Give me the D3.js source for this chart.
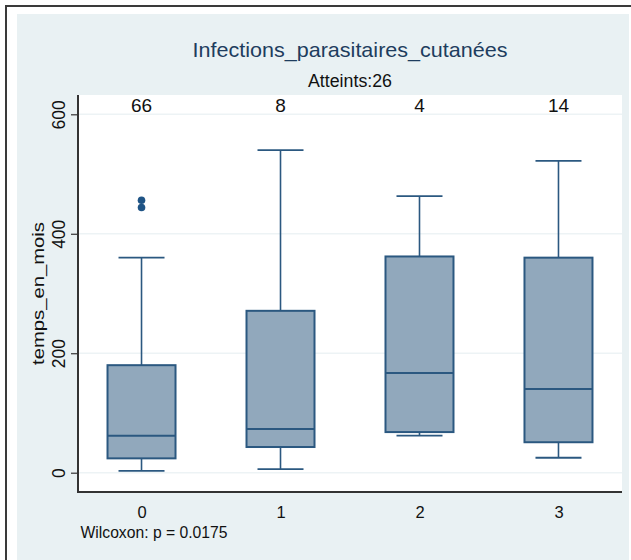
<!DOCTYPE html>
<html>
<head>
<meta charset="utf-8">
<script src="https://cdn.jsdelivr.net/npm/d3@7"></script>
<style>
  html, body { margin: 0; padding: 0; background: #ffffff; }
  svg { display: block; }
</style>
</head>
<body>
<svg id="chart" width="631" height="560"></svg>
<script>
// Box plot summaries per group (temps_en_mois)
const categories  = ["0", "1", "2", "3"];
const counts      = [66, 8, 4, 14];
const whiskerLow  = [3, 6, 62, 25];
const q1          = [24, 43, 68, 51];
const median      = [62, 73, 167, 140];
const q3          = [180, 271, 362, 360];
const whiskerHigh = [360, 540, 463, 522];
const outliers    = [[456, 444], [], [], []];
const yTicks      = [0, 200, 400, 600];

const titleText    = "Infections_parasitaires_cutanées";
const subtitleText = "Atteints:26";
const yLabel       = "temps_en_mois";
const noteText     = "Wilcoxon: p = 0.0175";

const svg = d3.select("#chart");
const font = "'Liberation Sans', Arial, sans-serif";

const plot = { left: 78, right: 622, top: 95, bottom: 492 };

const x = d3.scalePoint().domain(categories).range([plot.left, plot.right]).padding(0.457);
const y = d3.scaleLinear().domain([0, 600]).range([472.7, 114.3]);

const stroke = "#2b5880";
const fill = "#91a8bc";
const boxW = 68;
const capW = 46;

// outer frame and background
svg.append("line").attr("x1", 5).attr("x2", 631).attr("y1", 6).attr("y2", 6)
  .attr("stroke", "#3a3a3a").attr("stroke-width", 2);
svg.append("line").attr("x1", 6).attr("x2", 6).attr("y1", 5).attr("y2", 560)
  .attr("stroke", "#3a3a3a").attr("stroke-width", 2);
svg.append("rect").attr("x", 17).attr("y", 14).attr("width", 612).attr("height", 546)
  .attr("fill", "#e9f1f3");

// plot region
svg.append("rect").attr("x", plot.left).attr("y", plot.top)
  .attr("width", plot.right - plot.left).attr("height", plot.bottom - plot.top)
  .attr("fill", "#ffffff");

// gridlines
svg.append("g").selectAll("line").data(yTicks).join("line")
  .attr("x1", plot.left).attr("x2", plot.right)
  .attr("y1", d => y(d)).attr("y2", d => y(d))
  .attr("stroke", "#edf3f5").attr("stroke-width", 1.5);

// boxes
const groups = svg.append("g").selectAll("g").data(categories).join("g");

groups.append("line")
  .attr("x1", d => x(d)).attr("x2", d => x(d))
  .attr("y1", (d, i) => y(q3[i])).attr("y2", (d, i) => y(whiskerHigh[i]))
  .attr("stroke", stroke).attr("stroke-width", 1.6);
groups.append("line")
  .attr("x1", d => x(d)).attr("x2", d => x(d))
  .attr("y1", (d, i) => y(q1[i])).attr("y2", (d, i) => y(whiskerLow[i]))
  .attr("stroke", stroke).attr("stroke-width", 1.6);
groups.append("line")
  .attr("x1", d => x(d) - capW / 2).attr("x2", d => x(d) + capW / 2)
  .attr("y1", (d, i) => y(whiskerHigh[i])).attr("y2", (d, i) => y(whiskerHigh[i]))
  .attr("stroke", stroke).attr("stroke-width", 1.8);
groups.append("line")
  .attr("x1", d => x(d) - capW / 2).attr("x2", d => x(d) + capW / 2)
  .attr("y1", (d, i) => y(whiskerLow[i])).attr("y2", (d, i) => y(whiskerLow[i]))
  .attr("stroke", stroke).attr("stroke-width", 1.8);
groups.append("rect")
  .attr("x", d => x(d) - boxW / 2).attr("width", boxW)
  .attr("y", (d, i) => y(q3[i])).attr("height", (d, i) => y(q1[i]) - y(q3[i]))
  .attr("fill", fill).attr("stroke", stroke).attr("stroke-width", 2);
groups.append("line")
  .attr("x1", d => x(d) - boxW / 2).attr("x2", d => x(d) + boxW / 2)
  .attr("y1", (d, i) => y(median[i])).attr("y2", (d, i) => y(median[i]))
  .attr("stroke", stroke).attr("stroke-width", 2);

// outliers
groups.each(function (d, i) {
  d3.select(this).selectAll("circle").data(outliers[i]).join("circle")
    .attr("cx", x(d)).attr("cy", v => y(v)).attr("r", 3.8)
    .attr("fill", "#1f5485");
});

// group sizes above boxes
svg.append("g").selectAll("text").data(categories).join("text")
  .attr("x", d => x(d)).attr("y", 112)
  .attr("text-anchor", "middle")
  .attr("font-family", font).attr("font-size", 19).attr("fill", "#111")
  .text((d, i) => counts[i]);

// axes
const yAxis = d3.axisLeft(y).tickValues(yTicks).tickSize(7).tickPadding(6);
const yG = svg.append("g").attr("transform", `translate(${plot.left},0)`).call(yAxis);
yG.select(".domain").remove();
yG.selectAll(".tick line").attr("stroke", "#333").attr("stroke-width", 1.2);
yG.selectAll(".tick text")
  .attr("font-family", font).attr("font-size", 17.5).attr("fill", "#111")
  .attr("text-anchor", "middle").attr("dy", 0)
  .attr("transform", "translate(-13,0) rotate(-90)")
  .attr("x", 0).attr("y", 0);

svg.append("line").attr("x1", plot.left).attr("x2", plot.left)
  .attr("y1", plot.top).attr("y2", plot.bottom + 1)
  .attr("stroke", "#333").attr("stroke-width", 2);

const xAxis = d3.axisBottom(x).tickSize(0).tickPadding(0);
const xG = svg.append("g").attr("transform", `translate(0,${plot.bottom})`).call(xAxis);
xG.select(".domain").remove();
xG.selectAll(".tick text")
  .attr("font-family", font).attr("font-size", 16.5).attr("fill", "#111")
  .attr("dy", 0).attr("y", 26);

svg.append("line").attr("x1", plot.left - 1).attr("x2", plot.right)
  .attr("y1", plot.bottom).attr("y2", plot.bottom)
  .attr("stroke", "#333").attr("stroke-width", 2);

// titles and notes
svg.append("text").attr("x", 350).attr("y", 57).attr("text-anchor", "middle")
  .attr("font-family", font).attr("font-size", 21).attr("fill", "#1e3d5e")
  .attr("textLength", 315).attr("lengthAdjust", "spacingAndGlyphs")
  .text(titleText);
svg.append("text").attr("x", 350).attr("y", 87).attr("text-anchor", "middle")
  .attr("font-family", font).attr("font-size", 17.5).attr("fill", "#111")
  .attr("textLength", 84).attr("lengthAdjust", "spacingAndGlyphs")
  .text(subtitleText);
svg.append("text")
  .attr("transform", `translate(44,${(plot.top + plot.bottom) / 2}) rotate(-90)`)
  .attr("text-anchor", "middle")
  .attr("font-family", font).attr("font-size", 17).attr("fill", "#111")
  .attr("textLength", 143).attr("lengthAdjust", "spacingAndGlyphs")
  .text(yLabel);
svg.append("text").attr("x", 80.5).attr("y", 538)
  .attr("font-family", font).attr("font-size", 16).attr("fill", "#111")
  .attr("textLength", 147).attr("lengthAdjust", "spacingAndGlyphs")
  .text(noteText);
</script>
</body>
</html>
